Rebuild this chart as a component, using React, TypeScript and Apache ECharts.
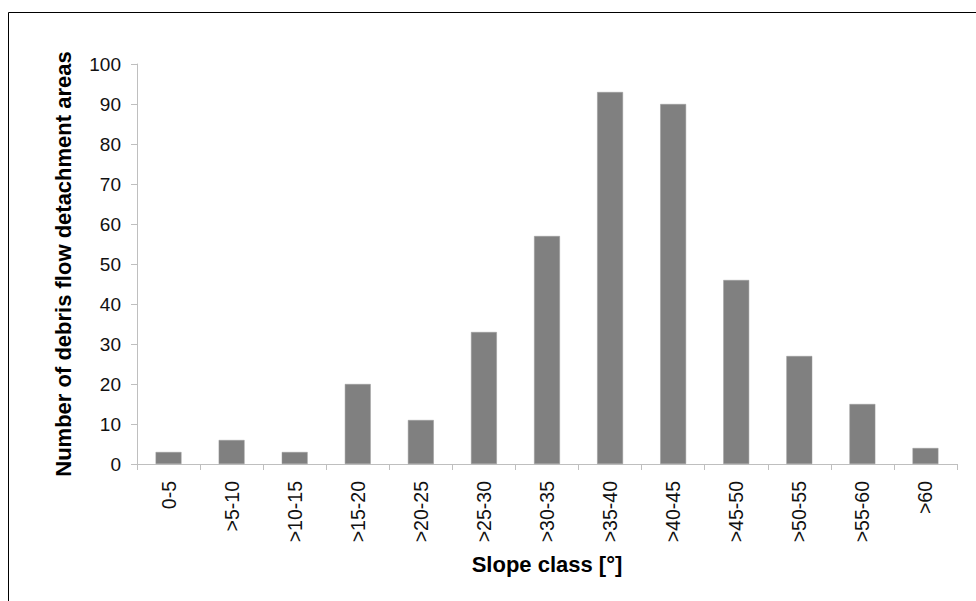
import React, { useEffect, useRef } from "react";
import * as echarts from "echarts";

const categories = ["0-5", ">5-10", ">10-15", ">15-20", ">20-25", ">25-30", ">30-35", ">35-40", ">40-45", ">45-50", ">50-55", ">55-60", ">60"];
const counts = [3, 6, 3, 20, 11, 33, 57, 93, 90, 46, 27, 15, 4];
const yTicks = { min: 0, max: 100, interval: 10 };

const FONT = "'Liberation Sans', Arial, sans-serif";

export default function App() {
  const ref = useRef<HTMLDivElement>(null);
  useEffect(() => {
    document.body.style.margin = "0";
    const chart = echarts.init(ref.current!, null, { renderer: "svg" });
    chart.setOption({
      animation: false,
      backgroundColor: "#ffffff",
      grid: { left: 137, right: 19, top: 64, bottom: 137, containLabel: false },
      graphic: [
        {
          type: "polyline",
          shape: { points: [[8.5, 601], [8.5, 12.5], [976, 12.5]] },
          style: { stroke: "#000000", lineWidth: 1, fill: "none" },
          silent: true,
        },
      ],
      xAxis: {
        type: "category",
        data: categories,
        name: "Slope class [°]",
        nameLocation: "middle",
        nameGap: 89,
        nameTextStyle: { fontFamily: FONT, fontWeight: "bold", fontSize: 22, color: "#000", verticalAlign: "top" },
        axisLine: { lineStyle: { color: "#bfbfbf", width: 1 } },
        axisTick: { show: true, length: 6, lineStyle: { color: "#bfbfbf" } },
        axisLabel: { rotate: 90, margin: 17, fontFamily: FONT, fontSize: 19.5, color: "#111" },
        splitLine: { show: false },
      },
      yAxis: {
        type: "value",
        min: yTicks.min,
        max: yTicks.max,
        interval: yTicks.interval,
        name: "Number of debris flow detachment areas",
        nameLocation: "middle",
        nameGap: 63,
        nameRotate: 90,
        nameTextStyle: { fontFamily: FONT, fontWeight: "bold", fontSize: 22, color: "#000" },
        axisLine: { show: true, lineStyle: { color: "#bfbfbf", width: 1 } },
        axisTick: { show: true, length: 6, lineStyle: { color: "#bfbfbf" } },
        axisLabel: { margin: 16, fontFamily: FONT, fontSize: 19, color: "#111" },
        splitLine: { show: false },
      },
      series: [
        {
          type: "bar",
          data: counts,
          barWidth: "41%",
          itemStyle: { color: "#808080", borderColor: "#9a9a9a", borderWidth: 0.5 },
        },
      ],
    });
    return () => chart.dispose();
  }, []);
  return <div ref={ref} style={{ width: 976, height: 601 }} />;
}
